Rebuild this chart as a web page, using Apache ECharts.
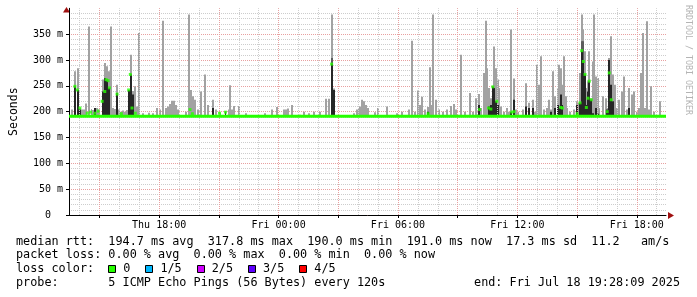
<!DOCTYPE html>
<html>
<head>
<meta charset="utf-8">
<script src="https://cdn.jsdelivr.net/npm/echarts@6/dist/echarts.min.js"></script>
<style>
  html, body { margin: 0; padding: 0; background: #fff; }
  #chart { width: 697px; height: 297px; }
</style>
</head>
<body>
<div id="chart"></div>
<script>
// time is in minutes since Thu 00:00, window is the last 30 hours
const START = 808.15;   // Thu 13:28:09
const END = 2608.15;    // Fri 19:28:09
const BIN = 6;          // smoke column width in minutes
const SMOKE_BASE = 190;
const MEDIAN_FLOOR = 191;

const xLabelTimes = [1080, 1440, 1800, 2160, 2520];
const xLabelTexts = ['Thu 18:00', 'Fri 00:00', 'Fri 06:00', 'Fri 12:00', 'Fri 18:00'];
const firstHour = 840, lastHour = 2580;

// [minute, highest ping in ms]
const smokeMax = [
  [818,204],[826,278],[834,284],[840,207],[846,204],[852,204],[858,216],[868,365],[876,205],[882,203],
  [888,207],[894,207],[900,204],[910,262],[916,294],[922,288],[928,278],[934,365],[940,207],[946,205],
  [952,252],[958,204],[964,200],[970,202],[976,200],[982,203],[988,242],[994,310],[1000,240],[1006,249],
  [1012,210],[1018,352],[1030,197],[1050,198],[1060,197],[1073,207],[1082,204],[1091,376],[1100,207],[1106,210],
  [1112,215],[1118,221],[1124,221],[1130,213],[1138,204],[1160,200],[1170,388],[1176,242],[1182,230],[1188,223],
  [1196,204],[1206,239],[1218,272],[1226,213],[1242,223],[1250,204],
  [1262,197],[1280,200],[1290,204],[1295,251],[1301,204],[1306,211],[1322,211],[1343,197],[1400,197],[1420,204],
  [1436,209],[1455,204],[1461,204],[1467,206],[1482,213],[1506,194],[1518,200],[1532,197],[1548,200],[1566,200],
  [1583,225],[1591,225],[1600,388],[1606,245],[1666,197],[1675,204],[1681,207],[1687,210],[1693,223],[1699,220],
  [1705,213],[1711,207],
  [1730,199],[1741,207],[1766,210],[1796,197],[1813,200],[1832,204],[1841,337],[1850,200],[1860,241],[1866,213],
  [1873,229],[1882,204],[1891,209],[1896,286],[1902,213],[1907,388],[1914,223],[1923,204],[1936,200],[1948,204],
  [1961,211],[1968,215],[1975,204],[1991,310],[2003,200],[2018,236],[2025,200],[2036,226],[2044,234],[2051,207],
  [2058,275],[2064,376],[2068,284],[2074,246],[2080,226],[2086,249],[2091,326],[2096,284],[2101,262],[2106,246],
  [2111,210],[2121,200],[2130,207],[2136,200],[2141,359],[2150,264],[2156,204],
  [2163,200],[2176,204],[2185,255],[2196,217],[2206,223],[2212,200],[2220,291],[2226,252],[2232,307],[2240,204],
  [2248,207],[2255,223],[2262,204],[2268,278],[2274,230],[2282,246],[2286,291],[2291,284],[2296,252],[2301,307],
  [2306,230],[2311,207],[2320,200],[2330,204],[2340,220],[2345,217],[2349,275],[2354,388],[2359,359],[2364,317],
  [2368,246],[2373,259],[2377,317],[2383,226],[2388,297],[2392,388],[2398,268],[2402,265],[2407,207],[2419,230],
  [2426,226],[2431,207],[2437,304],[2443,346],[2448,272],[2454,252],[2459,207],[2466,223],[2476,239],[2483,268],
  [2490,204],[2498,246],[2506,233],[2512,239],[2521,200],[2528,207],[2533,275],[2540,352],[2545,207],[2551,375],
  [2556,204],[2563,249],[2573,200],[2590,220]
];

// denser smoke around the median
const smokeMid = [[1600,304],[2354,336],[2359,336]];
const smokeDark = [
  [826,249],[834,242],[840,204],[888,207],[910,239],[916,265],[922,262],[928,246],[952,236],[988,242],
  [994,272],[1000,233],[1242,207],[1280,200],[1600,292],[1606,242],[1891,200],[2044,213],[2074,210],[2080,213],
  [2086,248],[2091,246],[2096,220],[2101,213],[2141,199],[2150,223],[2185,210],[2196,207],[2206,207],[2262,200],
  [2274,207],[2282,213],[2286,207],[2291,233],[2296,213],[2340,213],[2349,217],[2354,318],[2359,297],[2364,272],
  [2368,213],[2373,239],[2377,259],[2383,223],[2388,197],[2398,207],[2402,196],[2431,204],[2437,300],[2443,252],
  [2448,220],[2498,207]
];

// median rtt where it rose above the floor
const medianRaised = [
  [826,249],[833,242],[841,207],[863,197],[873,199],[886,197],[896,201],[908,220],[916,239],[920,262],
  [926,260],[930,246],[953,234],[966,196],[988,242],[993,272],[998,207],[1008,197],[1173,204],[1180,196],
  [1262,197],[1280,199],[1600,292],[1891,196],[2046,204],[2073,207],[2080,205],[2086,248],[2098,220],[2143,199],
  [2150,200],[2291,208],[2296,207],[2340,196],[2349,217],[2354,318],[2359,297],[2364,272],[2368,208],[2373,226],
  [2377,259],[2383,223],[2431,200],[2437,275],[2443,223]
];

const rttStats = ['194.7', '317.8', '190.0', '191.0', '17.3', '11.2'];
const lossStats = ['0.00', '0.00', '0.00', '0.00'];
const lossLabels = ['0', '1/5', '2/5', '3/5', '4/5'];
const lossColors = ['#26ff00', '#00b8ff', '#d000ff', '#5e00ff', '#ff0000'];
const probeText = '5 ICMP Echo Pings (56 Bytes) every 120s';
const endText = 'end: Fri Jul 18 19:28:09 2025';

const MONO = '"DejaVu Sans Mono", monospace';
const LEGEND_FONT = '11.8px ' + MONO;
const CHAR_W = 7.1;

const hourLines = [];
const majorLines = [];
for (let t = firstHour; t <= lastHour; t += 60) {
  hourLines.push(t);
  if (t % 180 === 0) majorLines.push(t);
}

function smokeRender(color) {
  return function (params, api) {
    const t = api.value(0);
    const a = api.coord([t - BIN / 2, SMOKE_BASE]);
    const b = api.coord([t + BIN / 2, api.value(1)]);
    const x = Math.round(a[0]);
    return {
      type: 'rect',
      shape: { x: x, y: b[1], width: Math.max(1, Math.round(b[0]) - x), height: a[1] - b[1] },
      style: { fill: color }
    };
  };
}

const gridLeft = 66, gridRight = 666, gridTop = 8.3, gridBottom = 215;

const graphics = [];
const lines = [
  'median rtt:  ' + rttStats[0] + ' ms avg  ' + rttStats[1] + ' ms max  ' + rttStats[2] + ' ms min  ' +
    rttStats[3] + ' ms now  ' + rttStats[4] + ' ms sd  ' + rttStats[5] + '   am/s',
  'packet loss: ' + lossStats[0] + ' % avg  ' + lossStats[1] + ' % max  ' + lossStats[2] + ' % min  ' +
    lossStats[3] + ' % now',
  'loss color:',
  'probe:       ' + probeText
];
const lineY = [241.5, 255.3, 269.3, 283.3];
lines.forEach(function (txt, i) {
  graphics.push({
    type: 'text', silent: true,
    style: { text: txt, x: 16, y: lineY[i], font: LEGEND_FONT, fill: '#000', textVerticalAlign: 'middle' }
  });
});
graphics.push({
  type: 'text', silent: true,
  style: { text: endText, x: 680, y: lineY[3], font: LEGEND_FONT, fill: '#000', textAlign: 'right', textVerticalAlign: 'middle' }
});
let lx = 16 + 13 * CHAR_W;
lossLabels.forEach(function (lab, i) {
  graphics.push({
    type: 'rect', silent: true,
    shape: { x: Math.round(lx) + 0.5, y: 265.5, width: 7, height: 7 },
    style: { fill: lossColors[i], stroke: '#000', lineWidth: 1 }
  });
  graphics.push({
    type: 'text', silent: true,
    style: { text: lab, x: lx + 15, y: lineY[2], font: LEGEND_FONT, fill: '#000', textVerticalAlign: 'middle' }
  });
  lx += 15 + lab.length * CHAR_W + 15;
});
// axis arrows
graphics.push({
  type: 'polygon', silent: true,
  shape: { points: [[gridLeft - 3, 12.5], [gridLeft + 0.5, 7], [gridLeft + 4, 12.5]] },
  style: { fill: '#a01010' }
});
graphics.push({
  type: 'polygon', silent: true,
  shape: { points: [[gridRight + 2, gridBottom - 3], [gridRight + 8, gridBottom + 0.5], [gridRight + 2, gridBottom + 4]] },
  style: { fill: '#a01010' }
});
graphics.push({
  type: 'text', silent: true, x: 684, y: 5, rotation: -Math.PI / 2,
  style: { text: 'RRDTOOL / TOBI OETIKER', x: 0, y: 0, font: '8.3px ' + MONO, fill: '#b4b4b4', textVerticalAlign: 'bottom' }
});

const gridMarks = hourLines.map(function (t) {
  return { xAxis: t, lineStyle: { color: '#cdcdcd', type: [1, 1], width: 1 } };
}).concat(majorLines.map(function (t) {
  return { xAxis: t, lineStyle: { color: '#e8a0a0', type: [1, 1], width: 1 } };
}));

const chart = echarts.init(document.getElementById('chart'), null, { renderer: 'canvas' });
chart.setOption({
  animation: false,
  backgroundColor: '#fff',
  grid: { left: gridLeft, right: 697 - gridRight, top: gridTop, bottom: 297 - gridBottom },
  xAxis: {
    type: 'value', min: START, max: END,
    axisLine: { show: true, onZero: false, lineStyle: { color: '#000', width: 1 } },
    axisTick: { show: true, customValues: majorLines, length: 3, lineStyle: { color: '#000' } },
    axisLabel: {
      customValues: xLabelTimes, margin: 5, color: '#000', fontFamily: MONO, fontSize: 10,
      formatter: function (v) { const i = xLabelTimes.indexOf(v); return i >= 0 ? xLabelTexts[i] : ''; }
    },
    splitLine: { show: false }
  },
  yAxis: {
    type: 'value', min: 0, max: 400, interval: 50,
    name: 'Seconds', nameLocation: 'middle', nameGap: 49,
    nameTextStyle: { fontFamily: MONO, fontSize: 11.5, color: '#000' },
    axisLine: { show: true, lineStyle: { color: '#000', width: 1 } },
    axisTick: { show: true, length: 3, lineStyle: { color: '#000' } },
    axisLabel: {
      margin: 6, color: '#000', fontFamily: MONO, fontSize: 10, showMaxLabel: false,
      formatter: function (v) { return v === 0 ? '0  ' : v + ' m'; }
    },
    splitLine: { show: true, showMaxLine: false, lineStyle: { color: '#e8a0a0', type: [1, 1] } },
    minorTick: { show: false, splitNumber: 5 },
    minorSplitLine: { show: true, lineStyle: { color: '#cdcdcd', type: [1, 1] } }
  },
  graphic: graphics,
  series: [
    {
      type: 'line', data: [], silent: true, z: 1,
      markLine: { silent: true, symbol: ['none', 'none'], label: { show: false }, animation: false, data: gridMarks }
    },
    { type: 'custom', data: smokeMax, renderItem: smokeRender('#a2a2a2'), encode: { x: 0, y: 1 }, silent: true, z: 2 },
    { type: 'custom', data: smokeMid, renderItem: smokeRender('#5c5c5c'), encode: { x: 0, y: 1 }, silent: true, z: 3 },
    { type: 'custom', data: smokeDark, renderItem: smokeRender('#262626'), encode: { x: 0, y: 1 }, silent: true, z: 4 },
    {
      type: 'line', data: [[START, MEDIAN_FLOOR], [END, MEDIAN_FLOOR]], symbol: 'none', silent: true, z: 5,
      lineStyle: { color: lossColors[0], width: 3 }
    },
    {
      type: 'scatter', data: medianRaised, symbol: 'rect', symbolSize: [3, 3], silent: true, z: 6,
      itemStyle: { color: lossColors[0] }
    }
  ]
});
</script>
</body>
</html>
